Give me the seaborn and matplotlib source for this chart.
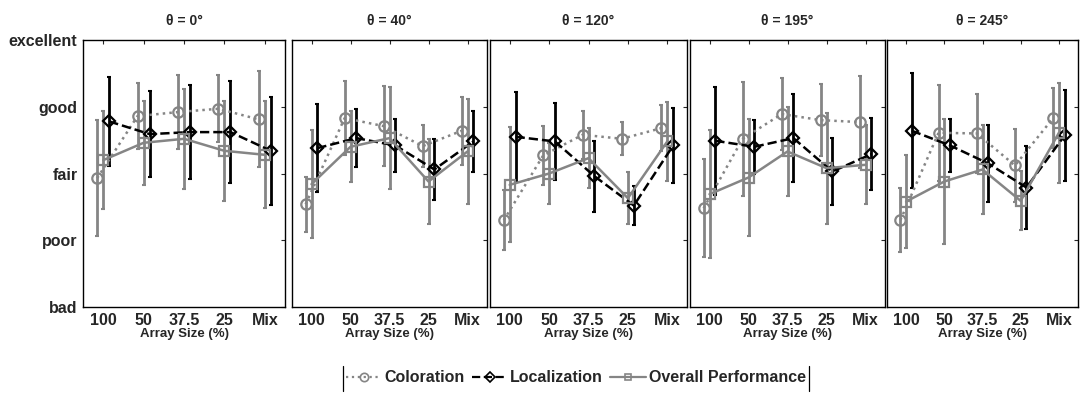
import numpy as np
import pandas as pd
import matplotlib
matplotlib.use("Agg")
import matplotlib.pyplot as plt
import seaborn as sns
from matplotlib.lines import Line2D

# Data (1 = bad ... 5 = excellent)
categories = ["100", "50", "37.5", "25", "Mix"]
angles = ["θ = 0°", "θ = 40°", "θ = 120°", "θ = 195°", "θ = 245°"]
ratings = ["bad", "poor", "fair", "good", "excellent"]

coloration_mean = [
    [2.93, 3.86, 3.92, 3.97, 3.81],
    [2.54, 3.83, 3.71, 3.41, 3.64],
    [2.30, 3.27, 3.58, 3.52, 3.68],
    [2.48, 3.52, 3.89, 3.80, 3.77],
    [2.30, 3.61, 3.60, 3.12, 3.83],
]
coloration_err = [
    [0.87, 0.49, 0.55, 0.50, 0.72],
    [0.41, 0.56, 0.60, 0.32, 0.51],
    [0.45, 0.44, 0.36, 0.25, 0.35],
    [0.73, 0.85, 0.54, 0.54, 0.69],
    [0.48, 0.72, 0.59, 0.55, 0.45],
]
localization_mean = [
    [3.78, 3.59, 3.62, 3.62, 3.34],
    [3.38, 3.53, 3.42, 3.06, 3.48],
    [3.55, 3.48, 2.96, 2.52, 3.42],
    [3.49, 3.40, 3.53, 3.03, 3.29],
    [3.64, 3.42, 3.15, 2.79, 3.57],
]
localization_err = [
    [0.67, 0.64, 0.70, 0.76, 0.81],
    [0.66, 0.44, 0.40, 0.46, 0.46],
    [0.67, 0.58, 0.53, 0.29, 0.56],
    [0.81, 0.40, 0.66, 0.50, 0.54],
    [0.86, 0.40, 0.58, 0.62, 0.68],
]
overall_mean = [
    [3.20, 3.46, 3.52, 3.34, 3.28],
    [2.84, 3.40, 3.53, 2.88, 3.33],
    [2.83, 3.00, 3.23, 2.63, 3.48],
    [2.69, 2.94, 3.33, 3.08, 3.13],
    [2.58, 2.88, 3.06, 2.59, 3.61],
]
overall_err = [
    [0.73, 0.63, 0.75, 0.75, 0.80],
    [0.81, 0.53, 0.76, 0.63, 0.78],
    [0.86, 0.45, 0.45, 0.39, 0.59],
    [0.96, 0.87, 0.67, 0.83, 0.59],
    [0.69, 0.94, 0.66, 0.44, 0.75],
]

grey = "#858585"
# name, means, errors, colour, linestyle, marker, markersize, x offset
series = [
    ("Coloration", coloration_mean, coloration_err, grey, ":", "o", 7.5, -0.15),
    ("Localization", localization_mean, localization_err, "black", "--", "D", 6.5, 0.15),
    ("Overall Performance", overall_mean, overall_err, grey, "-", "s", 6.5, 0.0),
]

sns.set_style("white")
plt.rcParams["font.family"] = ["Liberation Sans", "DejaVu Sans"]
plt.rcParams["font.weight"] = "bold"

W, H = 1080, 396
fig = plt.figure(figsize=(W / 100, H / 100), dpi=100)
panels = [(83, 285), (292, 487), (490, 687), (690, 885), (887, 1078)]
top, bottom = 40, 307

for i, (x0, x1) in enumerate(panels):
    ax = fig.add_axes([x0 / W, 1 - bottom / H, (x1 - x0) / W, (bottom - top) / H])
    pos = np.arange(1, len(categories) + 1)

    # error bars behind, lines + markers on top
    for name, means, errs, col, ls, mk, ms, off in series:
        ax.errorbar(pos + off, means[i], yerr=errs[i], fmt="none", ecolor=col,
                    elinewidth=2, capsize=1.5, capthick=1.5, zorder=2)
    for name, means, errs, col, ls, mk, ms, off in series:
        df = pd.DataFrame({"pos": pos + off, "score": means[i]})
        sns.lineplot(data=df, x="pos", y="score", ax=ax, color=col, linestyle=ls,
                     linewidth=1.8, marker=mk, markersize=ms, markerfacecolor="none",
                     markeredgecolor=col, markeredgewidth=1.6, zorder=3)

    ax.set_xlim(0.5, 5.5)
    ax.set_ylim(1, 5)
    ax.set_xticks(pos)
    ax.set_xticklabels(categories, fontsize=11.5, fontweight="bold")
    ax.set_yticks([1, 2, 3, 4, 5])
    if i == 0:
        ax.set_yticklabels(ratings, fontsize=11.5, fontweight="bold")
    else:
        ax.set_yticklabels([])
    ax.set_xlabel("Array Size (%)", fontsize=9.5, fontweight="bold", labelpad=0)
    ax.set_ylabel("")
    ax.set_title(angles[i], fontsize=10, fontweight="bold", pad=11)
    ax.tick_params(direction="in", top=True, right=True, length=3, width=0.8, pad=4)
    for s in ax.spines.values():
        s.set_visible(True)
        s.set_color("black")
        s.set_linewidth(1.0)

handles = [Line2D([], [], color=col, linestyle=ls, linewidth=1.6, marker=mk,
                  markersize=ms - 1.5, markerfacecolor="none", markeredgecolor=col,
                  markeredgewidth=1.2)
           for name, means, errs, col, ls, mk, ms, off in series]
leg = fig.legend(handles, [s[0] for s in series], loc="center",
                 bbox_to_anchor=(576 / W, 1 - 378 / H), ncol=3, frameon=False,
                 handlelength=2.2, handletextpad=0.2, columnspacing=0.45,
                 borderpad=0.2, borderaxespad=0,
                 prop={"size": 11.5, "weight": "bold"})

# only the side edges of the legend box are visible in the original
fig.canvas.draw()
bb = leg.get_window_extent().transformed(fig.transFigure.inverted())
for xe in (bb.x0, bb.x1):
    fig.add_artist(Line2D([xe, xe], [1 - 391 / H, 1 - 366 / H], color="black",
                          linewidth=0.9, transform=fig.transFigure))

fig.savefig("out.png", dpi=100)
